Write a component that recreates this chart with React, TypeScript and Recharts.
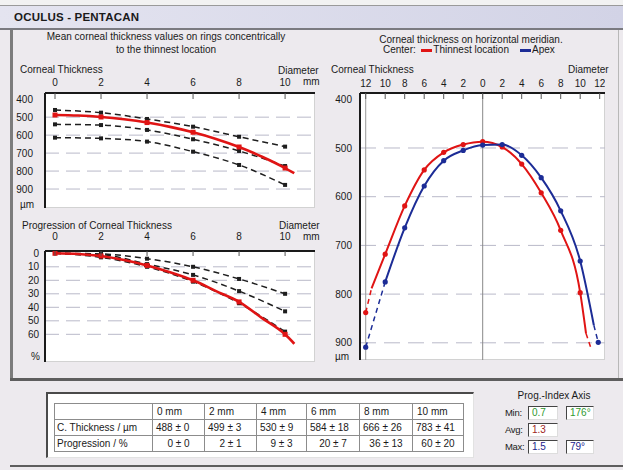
import React from 'react';
import { LineChart, Line, XAxis, YAxis, ReferenceLine } from 'recharts';

const FONT = '"Liberation Sans", Arial, sans-serif';
const RED = '#e01414';
const BLUE = '#1c2c96';
const DASH = '#1e1e1e';
const GRID = '#b9b9c9';
const TXT = '#1a1a1a';

// rings concentric to the thinnest location (diameter, mm)
const ringMm = [0, 2, 4, 6, 8, 10];
const normThin = [460, 475, 510, 553, 609, 664];
const normMid = [540, 544, 571, 623, 688, 772];
const normThick = [614, 618, 636, 692, 766, 877];
const patientMm = [0, 1, 2, 3, 4, 5, 6, 7, 8, 9, 10, 10.4];
const patientCT = [488, 491, 499, 512, 530, 554, 584, 621, 666, 720, 783, 812];

// progression of corneal thickness (%)
const progLow = [0, 0.5, 4, 10, 19, 30];
const progMid = [0, 1, 8, 16, 28, 43];
const progHigh = [0, 3, 10, 21, 37, 58];
const patientProg = [0, 0.5, 2, 5, 9, 14, 20, 28, 36, 48, 60, 67];

// horizontal meridian
const redMm = [-12, -11.4, -10, -8, -6, -4, -2, 0, 2, 4, 6, 8, 10, 10.6, 11.1];
const redCT = [838, 788, 718, 619, 545, 509, 493, 487, 498, 533, 592, 669, 797, 881, 911];
const blueMm = [-12, -10, -8, -6, -4, -2, 0, 2, 4, 6, 8, 10, 11.4, 11.85];
const blueCT = [909, 775, 664, 578, 526, 505, 494, 493, 515, 561, 629, 732, 864, 899];

// ticks
const ringTicks = [0, 2, 4, 6, 8, 10];
const meridianTicks = [-12, -10, -8, -6, -4, -2, 0, 2, 4, 6, 8, 10, 12];
const ctTicks = [400, 500, 600, 700, 800, 900];
const ctGrid = [500, 600, 700, 800, 900];
const progTicks = [0, 10, 20, 30, 40, 50, 60];
const progGrid = [10, 20, 30, 40, 50, 60];

// table
const tableCols = ['0 mm', '2 mm', '4 mm', '6 mm', '8 mm', '10 mm'];
const thickMean = [488, 499, 530, 584, 666, 783];
const thickSd = [0, 3, 9, 18, 26, 41];
const progMean = [0, 2, 9, 20, 36, 60];
const progSd = [0, 1, 3, 7, 13, 20];

const pts = (xs: number[], ys: number[]) => xs.map((x, i) => ({ x, y: ys[i] }));
const isEven = (x: number) => Number.isInteger(x) && x % 2 === 0;

const redPts = pts(redMm, redCT);
const bluePts = pts(blueMm, blueCT);

function TopTick(props: any) {
  const { x, y, payload, len, dy, abs } = props;
  const v = abs ? Math.abs(payload.value) : payload.value;
  return (
    <g>
      <line x1={x} x2={x} y1={y} y2={y + len} stroke="#555" />
      <text x={x} y={y + dy} textAnchor="middle" fontSize={10} fontFamily={FONT} fill={TXT}>{v}</text>
    </g>
  );
}

const circleDot = (keep: (x: number) => boolean, color: string, r = 2.6) => (p: any) => {
  const { cx, cy, payload, index } = p;
  if (!keep(payload.x)) return <g key={index} />;
  return <circle key={index} cx={cx} cy={cy} r={r} fill={color} stroke="none" />;
};
const squareDot = (keep: (x: number) => boolean, color: string, s = 4) => (p: any) => {
  const { cx, cy, payload, index } = p;
  if (!keep(payload.x)) return <g key={index} />;
  return <rect key={index} x={cx - s / 2} y={cy - s / 2} width={s} height={s} fill={color} />;
};

function T({ x, y, children, center, color, size, bold, ls }: any) {
  return (
    <span
      style={{
        position: 'absolute', left: x, top: y - 6, lineHeight: '12px', fontSize: size || 10,
        fontWeight: bold ? 700 : 400, color: color || TXT, whiteSpace: 'nowrap', letterSpacing: ls,
        transform: center ? 'translateX(-50%)' : undefined,
      }}
    >
      {children}
    </span>
  );
}

function PlotBg({ x, y, w, h }: any) {
  return (
    <div style={{
      position: 'absolute', left: x, top: y, width: w, height: h, background: '#fff',
      borderRight: '1px solid #d2d2d2', borderBottom: '1px solid #d2d2d2', boxSizing: 'border-box',
    }} />
  );
}

function ValBox({ x, y, w, color, children }: any) {
  return (
    <div style={{
      position: 'absolute', left: x, top: y, width: w, height: 14, background: '#fff', boxSizing: 'border-box',
      borderTop: '1.5px solid #444', borderLeft: '1.5px solid #444', borderRight: '1px solid #ddd', borderBottom: '1px solid #ddd',
      color, fontSize: 10, lineHeight: '12px', paddingLeft: 3,
    }}>{children}</div>
  );
}

const axisLine = { stroke: '#1a1a1a', strokeWidth: 2 };
const yTick = { fontSize: 10, fill: TXT, fontFamily: FONT };

export default function App() {
  const cell: React.CSSProperties = { border: '1px solid #8c8c8c', height: 15, padding: '0 0 0 4px', whiteSpace: 'nowrap' };
  return (
    <div style={{ position: 'absolute', left: 0, top: 0, width: 623, height: 470, overflow: 'hidden', background: '#edeaee', fontFamily: FONT }}>
      {/* title bar */}
      <div style={{ position: 'absolute', left: 0, top: 0, width: 623, height: 5, background: '#f2f2f2', borderBottom: '1px solid #9a9a9a' }} />
      <div style={{ position: 'absolute', left: 0, top: 6, width: 623, height: 22, background: 'linear-gradient(90deg, #e4e4f0, #d2d3e6)' }} />
      <div style={{ position: 'absolute', left: 0, top: 28, width: 623, height: 2, background: '#7a7a80' }} />
      <T x={14} y={17} size={11.5} bold ls={0.2}>OCULUS - PENTACAN</T>
      {/* panel edges */}
      <div style={{ position: 'absolute', left: 10, top: 30, width: 3, height: 350, background: '#7c7c7c' }} />
      <div style={{ position: 'absolute', left: 618, top: 30, width: 1, height: 348, background: '#b8b8b8' }} />
      <div style={{ position: 'absolute', left: 10, top: 378, width: 613, height: 3, background: '#5e5e5e' }} />
      <div style={{ position: 'absolute', left: 10, top: 465, width: 613, height: 2, background: '#5e5e5e' }} />

      {/* headings */}
      <T x={166} y={37} center>Mean corneal thickness values on rings concentrically</T>
      <T x={166} y={50} center>to the thinnest location</T>
      <T x={471} y={40} center>Corneal thickness on horizontal meridian.</T>
      <div style={{ position: 'absolute', left: 383, top: 44, fontSize: 10, lineHeight: '12px', color: TXT, whiteSpace: 'nowrap' }}>
        Center:&nbsp;&nbsp;
        <span style={{ display: 'inline-block', width: 11, height: 3, background: RED, verticalAlign: 'middle', marginRight: 1 }} />
        Thinnest location&nbsp;&nbsp;&nbsp;&nbsp;
        <span style={{ display: 'inline-block', width: 11, height: 3, background: BLUE, verticalAlign: 'middle', marginRight: 1 }} />
        Apex
      </div>

      {/* chart 1: corneal thickness on rings */}
      <T x={20} y={70}>Corneal Thickness</T>
      <T x={278} y={71}>Diameter</T>
      <T x={303} y={82}>mm</T>
      <T x={20} y={205}>µm</T>
      <PlotBg x={45} y={93} w={270} h={115} />
      <div style={{ position: 'absolute', left: 0, top: 63 }}>
        <LineChart width={315} height={145} margin={{ top: 0, right: 0, bottom: 0, left: 0 }}>
          <XAxis type="number" dataKey="x" orientation="top" height={30} domain={[-0.435, 11.3]} allowDataOverflow
            ticks={ringTicks} interval={0} axisLine={axisLine} tickLine={false} tickSize={0} tickMargin={0}
            tick={(p: any) => <TopTick {...p} len={6} dy={-7.5} />} />
          <YAxis type="number" reversed domain={[365.5, 1005.5]} allowDataOverflow ticks={ctTicks} interval={0} width={45}
            axisLine={axisLine} tickLine={false} tickSize={0} tickMargin={12} tick={yTick} />
          {ctGrid.map((v) => <ReferenceLine key={v} y={v} stroke={GRID} strokeDasharray="14 7" />)}
          {[normThin, normMid, normThick].map((s, i) => (
            <Line key={i} data={pts(ringMm, s)} dataKey="y" type="monotone" stroke={DASH} strokeWidth={1.5}
              strokeDasharray="6 4" dot={squareDot(() => true, DASH)} isAnimationActive={false} />
          ))}
          <Line data={pts(patientMm, patientCT)} dataKey="y" type="monotone" stroke={RED} strokeWidth={2.6}
            dot={squareDot(isEven, RED, 5)} isAnimationActive={false} />
        </LineChart>
      </div>

      {/* chart 2: progression */}
      <T x={22} y={226}>Progression of Corneal Thickness</T>
      <T x={279} y={226}>Diameter</T>
      <T x={303} y={237}>mm</T>
      <T x={31} y={357}>%</T>
      <PlotBg x={45} y={251} w={270} h={111} />
      <div style={{ position: 'absolute', left: 0, top: 221 }}>
        <LineChart width={315} height={141} margin={{ top: 0, right: 0, bottom: 0, left: 0 }}>
          <XAxis type="number" dataKey="x" orientation="top" height={30} domain={[-0.435, 11.3]} allowDataOverflow
            ticks={ringTicks} interval={0} axisLine={axisLine} tickLine={false} tickSize={0} tickMargin={0}
            tick={(p: any) => <TopTick {...p} len={5} dy={-11} />} />
          <YAxis type="number" reversed domain={[-1.7, 80.5]} allowDataOverflow ticks={progTicks} interval={0} width={45}
            axisLine={axisLine} tickLine={false} tickSize={0} tickMargin={6} tick={yTick} />
          {progGrid.map((v) => <ReferenceLine key={v} y={v} stroke={GRID} strokeDasharray="14 7" />)}
          {[progLow, progMid, progHigh].map((s, i) => (
            <Line key={i} data={pts(ringMm, s)} dataKey="y" type="monotone" stroke={DASH} strokeWidth={1.5}
              strokeDasharray="6 4" dot={squareDot((x) => x > 0, DASH)} isAnimationActive={false} />
          ))}
          <Line data={pts(patientMm, patientProg)} dataKey="y" type="monotone" stroke={RED} strokeWidth={2.6}
            dot={squareDot(isEven, RED, 5)} isAnimationActive={false} />
        </LineChart>
      </div>

      {/* chart 3: horizontal meridian */}
      <T x={331} y={70}>Corneal Thickness</T>
      <T x={568} y={70}>Diameter</T>
      <T x={335} y={357}>µm</T>
      <PlotBg x={360} y={93} w={245} h={267} />
      <div style={{ position: 'absolute', left: 300, top: 63 }}>
        <LineChart width={305} height={297} margin={{ top: 0, right: 0, bottom: 0, left: 0 }}>
          <XAxis type="number" dataKey="x" orientation="top" height={30} domain={[-12.585, 12.544]} allowDataOverflow
            ticks={meridianTicks} interval={0} axisLine={axisLine} tickLine={false} tickSize={0} tickMargin={0}
            tick={(p: any) => <TopTick {...p} len={6} dy={-6.5} abs />} />
          <YAxis type="number" reversed domain={[387.1, 935.3]} allowDataOverflow ticks={ctTicks} interval={0} width={60}
            axisLine={axisLine} tickLine={false} tickSize={0} tickMargin={8} tick={yTick} />
          {ctGrid.map((v) => <ReferenceLine key={v} y={v} stroke={GRID} strokeDasharray="16 8" />)}
          <ReferenceLine x={0} stroke="#888" />
          <ReferenceLine x={-12} stroke="#999" />
          <Line data={redPts.slice(0, 2)} dataKey="y" type="linear" stroke={RED} strokeWidth={1.5} strokeDasharray="5 4"
            dot={circleDot((x) => x === -12, RED)} isAnimationActive={false} />
          <Line data={redPts.slice(13)} dataKey="y" type="linear" stroke={RED} strokeWidth={1.5} strokeDasharray="5 4"
            dot={false} isAnimationActive={false} />
          <Line data={bluePts.slice(0, 2)} dataKey="y" type="linear" stroke={BLUE} strokeWidth={1.5} strokeDasharray="5 4"
            dot={circleDot((x) => x === -12, BLUE)} isAnimationActive={false} />
          <Line data={bluePts.slice(12)} dataKey="y" type="linear" stroke={BLUE} strokeWidth={1.5} strokeDasharray="5 4"
            dot={circleDot((x) => x > 11.5, BLUE)} isAnimationActive={false} />
          <Line data={redPts.slice(1, 14)} dataKey="y" type="monotone" stroke={RED} strokeWidth={2}
            dot={circleDot(isEven, RED)} isAnimationActive={false} />
          <Line data={bluePts.slice(1, 13)} dataKey="y" type="monotone" stroke={BLUE} strokeWidth={2}
            dot={circleDot(isEven, BLUE)} isAnimationActive={false} />
        </LineChart>
      </div>

      {/* table */}
      <div style={{
        position: 'absolute', left: 46, top: 392, width: 428, height: 66, background: '#fff', boxSizing: 'border-box',
        borderTop: '2px solid #4a4a4a', borderLeft: '2px solid #4a4a4a', borderRight: '1px solid #e2e2e2', borderBottom: '1px solid #e2e2e2',
      }} />
      <table style={{ position: 'absolute', left: 54, top: 403, width: 409, borderCollapse: 'collapse', tableLayout: 'fixed', fontSize: 10, color: TXT, lineHeight: '12px' }}>
        <colgroup>
          {[98, 52, 52, 50, 53, 53, 51].map((w, i) => <col key={i} style={{ width: w }} />)}
        </colgroup>
        <tbody>
          <tr>
            <td style={cell} />
            {tableCols.map((c) => <td key={c} style={cell}>{c}</td>)}
          </tr>
          <tr>
            <td style={{ ...cell, paddingLeft: 2 }}>C. Thickness / µm</td>
            {thickMean.map((m, i) => <td key={i} style={{ ...cell, paddingLeft: 3 }}>{m} ± {thickSd[i]}</td>)}
          </tr>
          <tr>
            <td style={{ ...cell, paddingLeft: 2 }}>Progression / %</td>
            {progMean.map((m, i) => <td key={i} style={{ ...cell, padding: 0, textAlign: 'center' }}>{m} ± {progSd[i]}</td>)}
          </tr>
        </tbody>
      </table>

      {/* progression index */}
      <T x={554} y={396} center>Prog.-Index Axis</T>
      <T x={505} y={413} size={9.5} ls={-0.3}>Min:</T>
      <T x={505} y={430} size={9.5} ls={-0.3}>Avg:</T>
      <T x={505} y={447} size={9.5} ls={-0.3}>Max:</T>
      <ValBox x={528} y={406} w={30} color="#2f9a2f">0.7</ValBox>
      <ValBox x={566} y={406} w={28} color="#2f9a2f">176°</ValBox>
      <ValBox x={528} y={423} w={30} color="#a02424">1.3</ValBox>
      <ValBox x={528} y={440} w={30} color="#22228c">1.5</ValBox>
      <ValBox x={566} y={440} w={28} color="#22228c">79°</ValBox>
    </div>
  );
}
